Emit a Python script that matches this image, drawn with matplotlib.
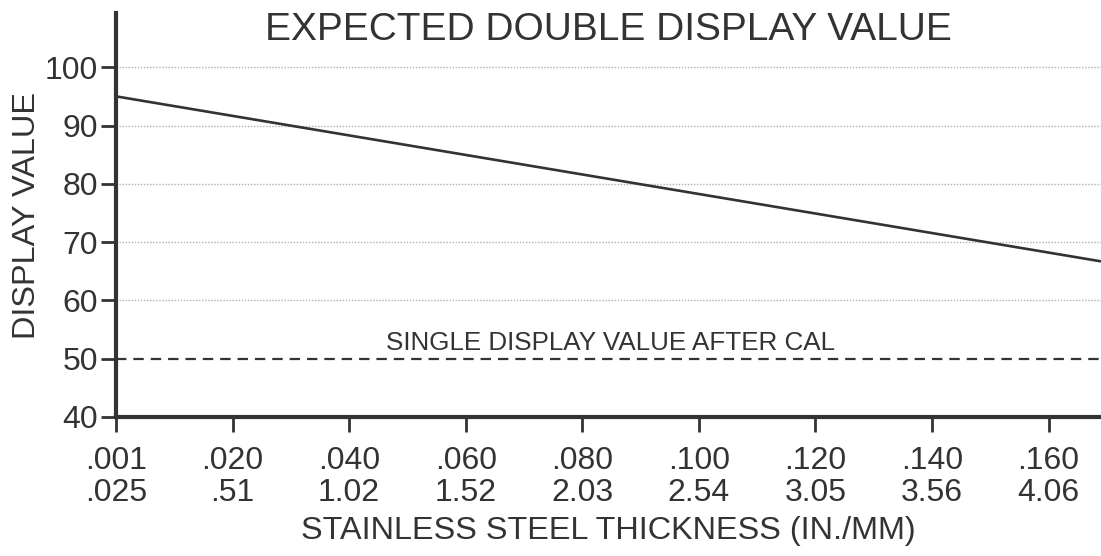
"""
Expected double display value vs. stainless steel thickness.
"""

import matplotlib
matplotlib.use("Agg")
import matplotlib.pyplot as plt

# tick categories (evenly spaced on the chart)
thickness_in = [".001", ".020", ".040", ".060", ".080", ".100", ".120", ".140", ".160"]
thickness_mm = [".025", ".51", "1.02", "1.52", "2.03", "2.54", "3.05", "3.56", "4.06"]

# line: start at .001 and at the right edge of the plot
line_pos = [0, 8.45]
line_values = [95, 66.7]

single_value = 50
y_ticks = [40, 50, 60, 70, 80, 90, 100]
grid_values = [60, 70, 80, 90, 100]

plt.rcParams["font.family"] = ["Liberation Sans", "DejaVu Sans"]
plt.rcParams["lines.scale_dashes"] = False
ink = "#333333"

fig = plt.figure(figsize=(11.01, 5.56), dpi=100)
ax = fig.add_axes([0.1054, 0.25, 0.8946, 0.7266])

ax.set_xlim(0, 8.45)
ax.set_ylim(40, 109.3)

for g in grid_values:
    ax.axhline(g, color="#b0b0b0", lw=1.0, ls=(0, (1, 1.2)), zorder=1)

ax.plot(line_pos, line_values, color=ink, lw=1.9, solid_capstyle="butt", zorder=3)
ax.plot([0, 8.45], [single_value, single_value], color=ink, lw=1.6,
        ls=(0, (7.5, 5)), zorder=3)
ax.text(4.24, 50.6, "SINGLE DISPLAY VALUE AFTER CAL", fontsize=18.7,
        color=ink, ha="center", va="bottom")

ax.text(0.5, 1.003, "EXPECTED DOUBLE DISPLAY VALUE", transform=ax.transAxes,
        fontsize=28, color=ink, ha="center", va="top")

ax.set_xticks(range(len(thickness_in)))
ax.set_xticklabels([f"{a}\n{b}" for a, b in zip(thickness_in, thickness_mm)],
                   linespacing=1.08)
ax.set_yticks(y_ticks)

ax.tick_params(axis="both", colors=ink, labelcolor=ink, labelsize=23,
               width=2, length=11, direction="out")
ax.tick_params(axis="x", pad=10)
ax.tick_params(axis="y", pad=2)

for side in ("top", "right"):
    ax.spines[side].set_visible(False)
for side in ("left", "bottom"):
    ax.spines[side].set_linewidth(3)
    ax.spines[side].set_color(ink)

ax.set_xlabel("STAINLESS STEEL THICKNESS (IN./MM)", fontsize=23.3, color=ink, labelpad=6)
ax.set_ylabel("DISPLAY VALUE", fontsize=23.4, color=ink, labelpad=2)

fig.savefig("out.png", dpi=100)
plt.close(fig)
